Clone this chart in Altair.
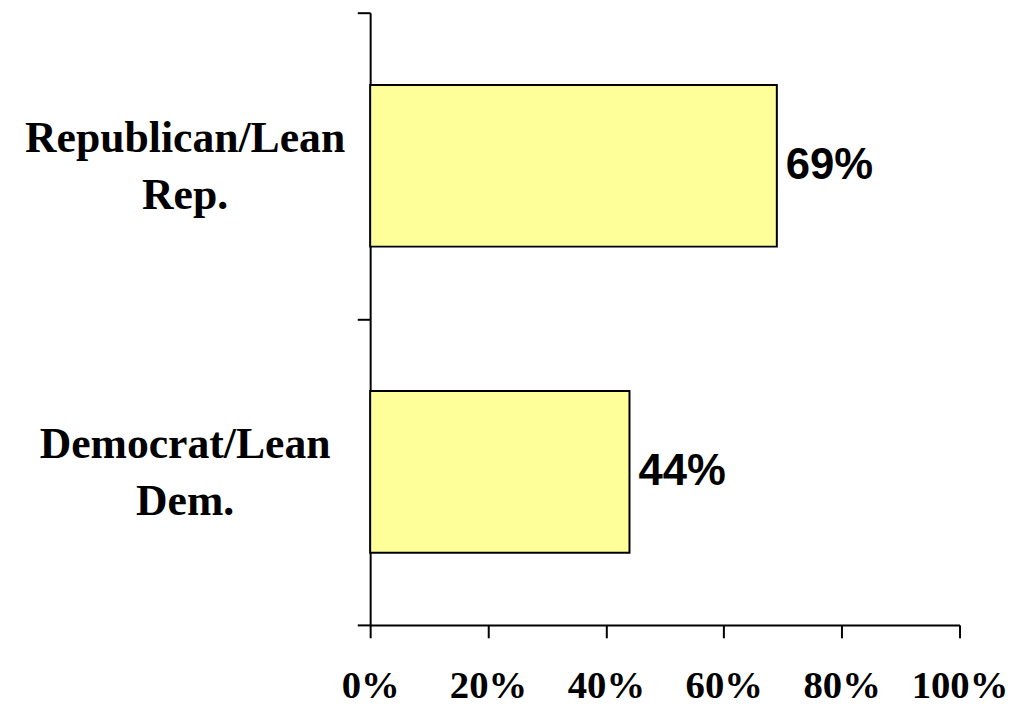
import altair as alt
import pandas as pd

# Data
categories = ["Republican/Lean\nRep.", "Democrat/Lean\nDem."]
values = [0.69, 0.44]
value_labels = ["69%", "44%"]
x_ticks = [0, 0.2, 0.4, 0.6, 0.8, 1.0]

df = pd.DataFrame({"group": categories, "share": values, "label": value_labels})

x_enc = alt.X(
    "share:Q",
    title=None,
    scale=alt.Scale(domain=[0, 1], nice=False),
    axis=alt.Axis(
        values=x_ticks,
        format=".0%",
        labelFont="Liberation Serif",
        labelFontWeight="bold",
        labelFontSize=39,
        labelColor="black",
        labelPadding=29,
        labelFlush=False,
        labelOverlap=False,
        grid=False,
    ),
)

y_enc = alt.Y(
    "group:N",
    sort=categories,
    title=None,
    scale=alt.Scale(paddingInner=0, paddingOuter=0),
    axis=alt.Axis(
        labelExpr="split(datum.label, '\\n')",
        tickBand="extent",
        labelFont="Liberation Serif",
        labelFontWeight="bold",
        labelFontSize=44,
        labelLineHeight=57,
        labelColor="black",
        labelAlign="center",
        labelBaseline="middle",
        labelPadding=174,
        labelOffset=-27,
        labelLimit=500,
        labelOverlap=False,
        grid=False,
    ),
)

bars = alt.Chart(df).mark_bar(
    size=163, fill="#FFFF99", stroke="black", strokeWidth=2
).encode(x=x_enc, y=y_enc)

texts = alt.Chart(df).mark_text(
    align="left",
    baseline="middle",
    dx=9,
    dy=0,
    font="Liberation Sans",
    fontWeight="bold",
    fontSize=44,
    color="black",
).encode(x="share:Q", y=alt.Y("group:N", sort=categories), text="label:N")

chart = (
    alt.layer(bars, texts)
    .properties(
        width=594,
        height=617,
        padding={"left": 365, "top": 2, "right": 69, "bottom": 80},
        autosize=alt.AutoSizeParams(type="none"),
        background="white",
    )
    .configure_view(stroke=None)
    .configure_axis(
        domainColor="black",
        domainWidth=2,
        tickColor="black",
        tickWidth=2,
        tickSize=13,
    )
)

chart.save("out.html", embed_options={"renderer": "svg", "actions": False})
